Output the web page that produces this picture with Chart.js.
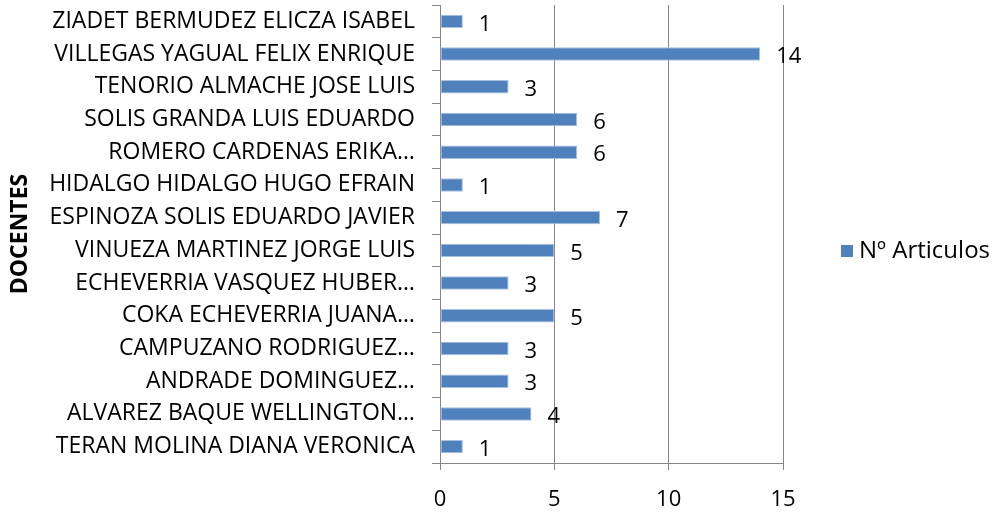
<!DOCTYPE html>
<html><head><meta charset="utf-8">
<script src="https://cdn.jsdelivr.net/npm/chart.js@4/dist/chart.umd.min.js"></script>
<style>html,body{margin:0;padding:0;background:#fff}</style>
</head><body>
<canvas id="c" width="996" height="512" style="display:block;width:996px;height:512px"></canvas>
<script>
const categories = [
  'ZIADET BERMUDEZ ELICZA ISABEL',
  'VILLEGAS YAGUAL FELIX ENRIQUE',
  'TENORIO ALMACHE JOSE LUIS',
  'SOLIS GRANDA LUIS EDUARDO',
  'ROMERO CARDENAS ERIKA…',
  'HIDALGO HIDALGO HUGO EFRAIN',
  'ESPINOZA SOLIS EDUARDO JAVIER',
  'VINUEZA MARTINEZ JORGE LUIS',
  'ECHEVERRIA VASQUEZ HUBER…',
  'COKA ECHEVERRIA JUANA…',
  'CAMPUZANO RODRIGUEZ…',
  'ANDRADE DOMINGUEZ…',
  'ALVAREZ BAQUE WELLINGTON…',
  'TERAN MOLINA DIANA VERONICA'
];
const articulos = [1, 14, 3, 6, 6, 1, 7, 5, 3, 5, 3, 3, 4, 1];
const xTicks = [0, 5, 10, 15];
const seriesName = 'Nº Articulos';
const axisTitle = 'DOCENTES';

const FONT = '"Open Sans", sans-serif';
const BAR = '#4F81BD';
const GRID = '#868686';

const dataLabels = {
  id: 'dataLabels',
  afterDatasetsDraw(chart) {
    const ctx = chart.ctx;
    const meta = chart.getDatasetMeta(0);
    ctx.save();
    ctx.font = '22px ' + FONT;
    ctx.fillStyle = '#000';
    ctx.textAlign = 'left';
    ctx.textBaseline = 'middle';
    meta.data.forEach((el, i) => {
      ctx.fillText(String(chart.data.datasets[0].data[i]), el.x + 16, el.y + 3);
    });
    ctx.restore();
  }
};

const customLegend = {
  id: 'customLegend',
  afterDraw(chart) {
    const ctx = chart.ctx;
    const ds = chart.data.datasets[0];
    const area = chart.chartArea;
    const cy = (area.top + area.bottom) / 2 + 17;
    ctx.save();
    ctx.fillStyle = ds.backgroundColor;
    ctx.fillRect(841, cy - 6, 12, 12);
    ctx.font = '24px ' + FONT;
    ctx.fillStyle = '#000';
    ctx.textAlign = 'left';
    ctx.textBaseline = 'middle';
    ctx.fillText(ds.label, 859, cy);
    ctx.restore();
  }
};

new Chart(document.getElementById('c'), {
  type: 'bar',
  data: {
    labels: categories,
    datasets: [{
      label: seriesName,
      data: articulos,
      backgroundColor: BAR,
      borderColor: '#A9C1DF',
      borderWidth: 1,
      borderSkipped: false,
      barPercentage: 0.41,
      categoryPercentage: 1
    }]
  },
  options: {
    indexAxis: 'y',
    responsive: false,
    animation: false,
    devicePixelRatio: 1,
    layout: { padding: { top: 5, right: 213, left: 0, bottom: 0 } },
    plugins: { legend: { display: false }, tooltip: { enabled: false } },
    scales: {
      x: {
        min: 0, max: 15,
        afterBuildTicks(scale) { scale.ticks = xTicks.map(v => ({ value: v })); },
        afterFit(scale) { scale.height = 49; scale.paddingLeft = 0; scale.paddingRight = 0; },
        grid: { color: GRID, lineWidth: 1, drawTicks: true, tickLength: 7, tickColor: GRID },
        border: { display: true, color: GRID },
        ticks: { color: '#000', font: { family: FONT, size: 22 }, padding: 17, maxRotation: 0 }
      },
      y: {
        afterFit(scale) { scale.width = 440; scale.paddingTop = 0; scale.paddingBottom = 0; },
        grid: { display: true, drawOnChartArea: false, drawTicks: true, tickLength: 8, color: GRID, offset: true },
        border: { display: true, color: GRID },
        ticks: { color: '#000', font: { family: FONT, size: 23 }, padding: 17, autoSkip: false },
        title: { display: true, text: axisTitle, color: '#000', font: { family: FONT, size: 23, weight: 'bold' }, padding: { top: 7, bottom: 0 } }
      }
    }
  },
  plugins: [dataLabels, customLegend]
});
</script>
</body></html>
